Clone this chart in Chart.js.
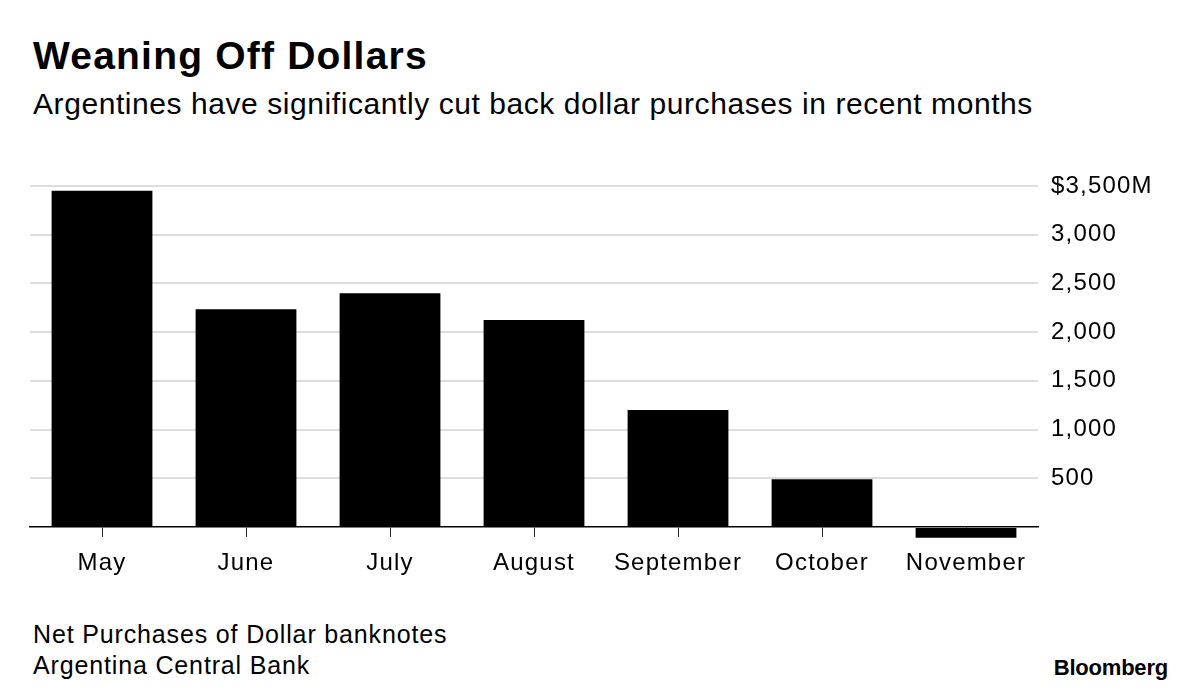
<!DOCTYPE html>
<html>
<head>
<meta charset="utf-8">
<title>Weaning Off Dollars</title>
<script src="https://cdn.jsdelivr.net/npm/chart.js@4"></script>
<style>
  html, body { margin: 0; padding: 0; background: #fff; }
  body { width: 1200px; height: 696px; position: relative; overflow: hidden;
         font-family: "Liberation Sans", Arial, sans-serif; color: #000; }
  .txt { position: absolute; line-height: 1; white-space: nowrap; }
  #title { left: 33px; top: 36px; font-size: 39px; font-weight: bold; letter-spacing: 1.2px; }
  #subtitle { left: 33px; top: 89px; font-size: 30px; letter-spacing: 0.57px; }
  #source1 { left: 33px; top: 622px; font-size: 25px; letter-spacing: 0.85px; }
  #source2 { left: 33px; top: 653px; font-size: 25px; letter-spacing: 0.85px; }
  #logo { right: 32px; top: 657px; font-size: 22px; font-weight: bold; letter-spacing: -0.2px; }
  #chartBox { position: absolute; left: 0; top: 0; width: 1200px; height: 600px; }
</style>
</head>
<body>
<div id="title" class="txt">Weaning Off Dollars</div>
<div id="subtitle" class="txt">Argentines have significantly cut back dollar purchases in recent months</div>
<div id="chartBox"><canvas id="chart"></canvas></div>
<div id="source1" class="txt">Net Purchases of Dollar banknotes</div>
<div id="source2" class="txt">Argentina Central Bank</div>
<div id="logo" class="txt">Bloomberg</div>

<script>
// Net purchases of dollar banknotes, millions of USD
const months = ['May', 'June', 'July', 'August', 'September', 'October', 'November'];
const netPurchases = [3450, 2235, 2400, 2125, 1200, 490, -110];

// y axis ticks and their labels
const yTicks = [0, 500, 1000, 1500, 2000, 2500, 3000, 3500];
const yTickLabels = ['', '500', '1,000', '1,500', '2,000', '2,500', '3,000', '$3,500M'];

const axisFont = { family: '"Liberation Sans", Arial, sans-serif', size: 24 };

// slightly wider tracking for axis labels, closer to the original typeface
const trackingPlugin = {
  id: 'tracking',
  beforeDraw(chart) {
    chart.ctx.letterSpacing = '1.2px';
  }
};

const ctx = document.getElementById('chart').getContext('2d');
ctx.letterSpacing = '1.2px';
new Chart(ctx, {
  type: 'bar',
  data: {
    labels: months,
    datasets: [{
      data: netPurchases,
      backgroundColor: '#000',
      borderWidth: 0,
      barPercentage: 0.7,
      categoryPercentage: 1.0,
      clip: false // November dips below the zero line
    }]
  },
  options: {
    responsive: true,
    maintainAspectRatio: false,
    animation: false,
    devicePixelRatio: 1,
    layout: { padding: { left: 30, top: 186, right: 0, bottom: 0 } },
    plugins: {
      legend: { display: false },
      tooltip: { enabled: false }
    },
    scales: {
      x: {
        grid: {
          offset: false,
          drawOnChartArea: false,
          drawTicks: true,
          tickLength: 10,
          tickColor: '#222',
          tickWidth: 1
        },
        border: { display: true, color: '#000', width: 1.5 },
        ticks: { color: '#000', font: axisFont, padding: 12, maxRotation: 0 },
        afterFit: (scale) => { scale.height = 73; }
      },
      y: {
        position: 'right',
        min: 0,
        max: 3500,
        grid: {
          drawTicks: false,
          lineWidth: 2,
          color: (c) => (c.tick && c.tick.value === 0 ? 'rgba(0,0,0,0)' : '#dddddd')
        },
        border: { display: false },
        ticks: {
          stepSize: 500,
          color: '#000',
          font: axisFont,
          padding: 13,
          callback: (value) => {
            const i = yTicks.indexOf(value);
            return i >= 0 ? yTickLabels[i] : '';
          }
        },
        afterFit: (scale) => { scale.width = 162; }
      }
    }
  },
  plugins: [trackingPlugin]
});
</script>
</body>
</html>
